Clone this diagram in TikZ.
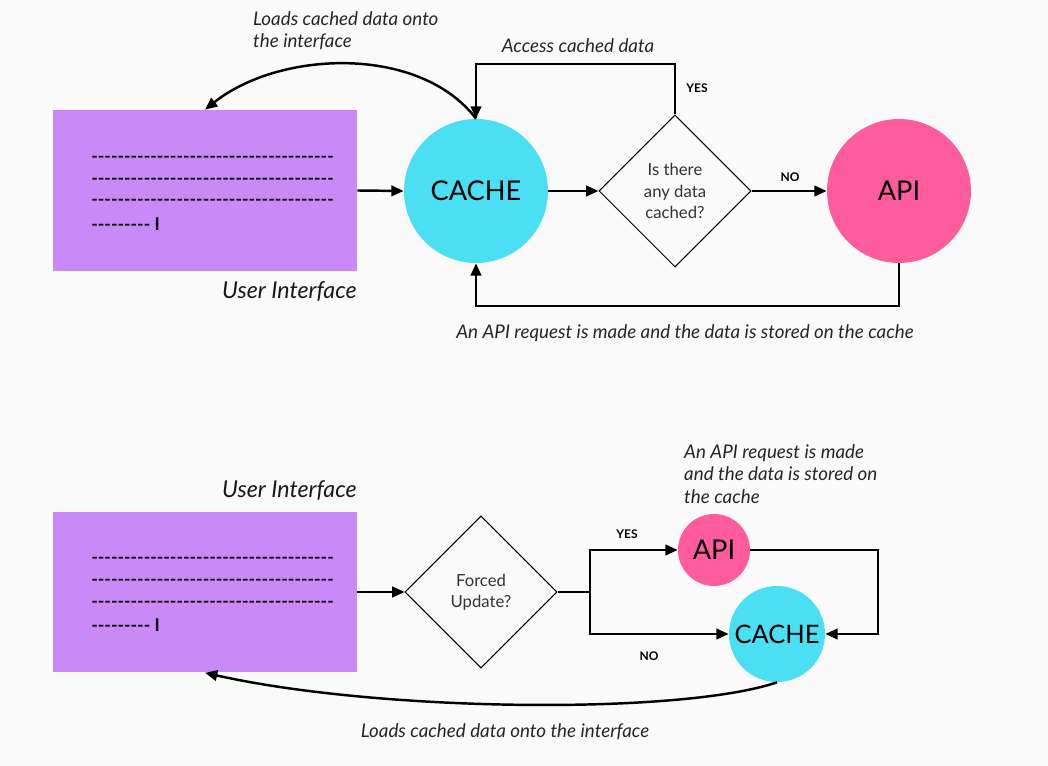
\documentclass[tikz,border=0pt]{standalone}
\usepackage{fontspec}
\setmainfont{Lato}
\usetikzlibrary{shapes.geometric,arrows.meta}
\definecolor{uipurple}{HTML}{C98AF8}
\definecolor{cachecyan}{HTML}{4ADFF2}
\definecolor{apipink}{HTML}{FF5C9D}
\definecolor{bggray}{HTML}{FAFAFA}
\newcommand\hyphrow[1]{\foreach\i in {1,...,#1}{\hbox{-}}}
\begin{document}
\begin{tikzpicture}[x=0.02cm,y=-0.02cm,
line/.style={line width=1.4pt},
conn/.style={line,-{Triangle[length=7pt,width=6pt]}},
uibox/.style={fill=uipurple,minimum width=6.08cm,minimum height=3.22cm,inner sep=0pt},
dashrow/.style={anchor=west,inner sep=0pt,font=\fontsize{10}{12}\selectfont\bfseries},
bubble/.style={circle,inner sep=0pt,font=\fontsize{15.5}{18}\selectfont},
query/.style={diamond,draw,line width=0.6pt,minimum width=3.04cm,minimum height=3.04cm,inner sep=0pt,align=center,text=black!80,font=\fontsize{9.5}{12}\selectfont},
note/.style={align=left,text=black!85,font=\fontsize{10.7}{12.8}\selectfont\itshape},
uilabel/.style={anchor=east,inner sep=0pt,text=black!90,font=\fontsize{13.2}{15}\selectfont\itshape},
tag/.style={inner sep=0pt,font=\fontsize{6.8}{8}\selectfont\bfseries}]
\fill[bggray](0,0) rectangle (1048,766);
\useasboundingbox(0,0) rectangle (1048,766);
\node[uibox](ui1) at (205,190.5){};
\node[uilabel](uilab1) at (357,292){User Interface};
\foreach \n/\y in {1/159,2/181,3/202}{\node[dashrow](ui1d\n) at (91,\y){\hyphrow{37}};}
\node[dashrow](ui1d4) at (91,224){\hyphrow{9} I};
\node[bubble,fill=cachecyan,minimum size=2.88cm](cache1) at (476,191){CACHE};
\node[query](ask1) at (675,191){Is there\\any data\\cached?};
\node[bubble,fill=apipink,minimum size=2.88cm](api1) at (899,191){API};
\draw[conn](ui1.east)--(cache1.west);
\draw[conn](cache1.east)--(ask1.west);
\draw[conn](ask1.east)--(api1.west);
\draw[conn](ask1.north)--(675,64)-|(cache1.north);
\draw[conn](api1.south)--(899,306)-|(cache1.south);
\draw[conn](cache1.north) .. controls (420,45) and (280,50) .. (ui1.north);
\node[tag](yes1) at (697,88){YES};
\node[tag](no1) at (790,177){NO};
\node[note,anchor=west](load1) at (247,31){Loads cached data onto\\the interface};
\node[note](access1) at (578,46){Access cached data};
\node[note](req1) at (685,333){An API request is made and the data is stored on the cache};
\node[uibox](ui2) at (205,592){};
\node[uilabel](uilab2) at (357,491){User Interface};
\foreach \n/\y in {1/560,2/582,3/604}{\node[dashrow](ui2d\n) at (91,\y){\hyphrow{37}};}
\node[dashrow](ui2d4) at (91,625){\hyphrow{9} I};
\node[query](ask2) at (481,592){Forced\\Update?};
\node[bubble,fill=apipink,minimum size=1.44cm](api2) at (714,550){API};
\node[bubble,fill=cachecyan,minimum size=1.92cm,font=\fontsize{14.5}{17}\selectfont](cache2) at (777,634){CACHE};
\draw[conn](ui2.east)--(ask2.west);
\draw[line](ask2.east)--(590,592) coordinate(split);
\draw[conn](split)|-(api2.west);
\draw[conn](split)|-(cache2.west);
\draw[conn](api2.east)--(878,550)|-(cache2.east);
\draw[conn](cache2.south) .. controls (680,715) and (380,712) .. (ui2.south);
\node[tag](yes2) at (627,534){YES};
\node[tag](no2) at (649,656){NO};
\node[note,anchor=west](req2) at (678,474){An API request is made\\and the data is stored on\\the cache};
\node[note](load2) at (505,732){Loads cached data onto the interface};
\end{tikzpicture}
\end{document}
